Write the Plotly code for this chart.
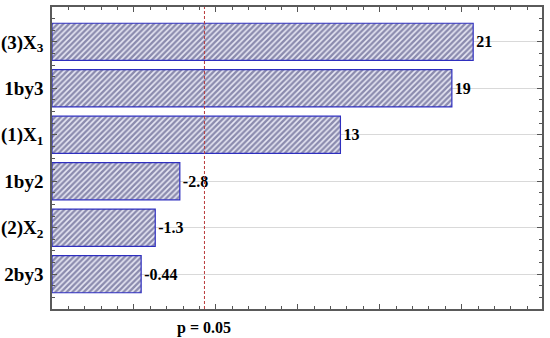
import plotly.graph_objects as go

# ---- data ----
factors = ["(3)X<sub>3</sub>", "1by3", "(1)X<sub>1</sub>", "1by2", "(2)X<sub>2</sub>", "2by3"]
effects = [20.7, 19.4, 12.6, -2.8, -1.3, -0.44]
p_critical = 4.303
p_label = "p = 0.05"

X_MIN, X_MAX = -5.0, 24.9

positions = list(range(len(factors)))
lengths = [abs(e) - X_MIN for e in effects]
texts = ["{:.2g}".format(e) for e in effects]

FONT = "Liberation Serif"

fig = go.Figure()
fig.add_trace(go.Bar(
    y=positions,
    x=lengths,
    base=X_MIN,
    orientation="h",
    width=0.8,
    text=texts,
    textposition="outside",
    constraintext="none",
    textfont=dict(family=FONT, size=16, color="black", weight="bold"),
    cliponaxis=False,
    marker=dict(
        color="white",
        line=dict(color="#2f2fbf", width=1.2),
        pattern=dict(shape="/", fgcolor="#2e2e68", bgcolor="#e8e8f4", size=4, solidity=0.6),
    ),
))

fig.add_shape(type="line", xref="x", yref="paper", x0=p_critical, x1=p_critical, y0=0, y1=1,
              line=dict(color="#b83a3a", width=1, dash="3px,2px"), layer="above")

fig.add_annotation(x=p_critical, xref="x", y=0, yref="paper", yshift=-8, text=p_label,
                   showarrow=False, yanchor="top", xanchor="center",
                   font=dict(family=FONT, size=16, color="black", weight="bold"))

fig.update_xaxes(
    range=[X_MIN, X_MAX], showgrid=False, zeroline=False, showticklabels=False,
    ticks="inside", ticklen=5, tick0=0, dtick=5, tickcolor="#555555",
    minor=dict(ticks="inside", ticklen=3, dtick=1, tickcolor="#555555", showgrid=False),
    showline=True, linecolor="#5a5a5a", linewidth=1.5, mirror="ticks",
    automargin=False,
)
fig.update_yaxes(
    range=[len(factors) - 0.25, -0.75], tickmode="array", tickvals=positions, ticktext=factors,
    showgrid=True, gridcolor="#d9d9d9", gridwidth=1, zeroline=False,
    ticks="inside", ticklen=5, tickcolor="#555555",
    minor=dict(ticks="inside", ticklen=3, dtick=0.25, tick0=0, tickcolor="#555555", showgrid=False),
    showline=True, linecolor="#5a5a5a", linewidth=1.5, mirror="ticks",
    tickfont=dict(family=FONT, size=19, color="black", weight="bold"),
    ticklabelstandoff=3,
    automargin=False,
)

fig.update_layout(
    width=550, height=338,
    margin=dict(l=52, r=8, t=7, b=29, autoexpand=False),
    paper_bgcolor="white", plot_bgcolor="white",
    showlegend=False,
)

fig.write_html("out.html", config={"displayModeBar": False},
               post_script="document.body.style.margin='0';")
